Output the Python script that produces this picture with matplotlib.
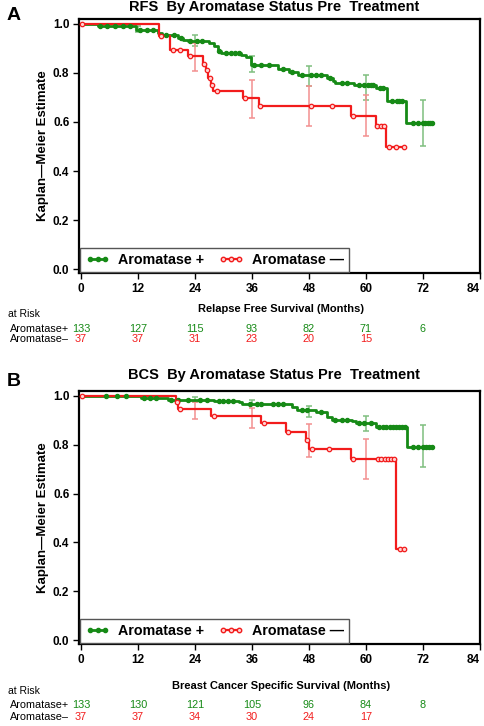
import numpy as np
import matplotlib
matplotlib.use("Agg")
import matplotlib.pyplot as plt
from matplotlib.lines import Line2D
from matplotlib.transforms import blended_transform_factory

plt.rcParams['font.family'] = ['Liberation Sans', 'DejaVu Sans']

GREEN = '#168a16'
GREEN_ERR = '#7fbf7f'
RED = '#f21c1c'
RED_ERR = '#f39090'

# ---- Panel A: relapse free survival ----
rfs_pos_t = [0, 3.5, 11.5, 16.2, 17, 20.4, 21.5, 22.5, 27, 28, 28.8, 29.5, 33.7, 34.7, 35.7,
             41.4, 43.9, 45.6, 51.9, 53, 53.5, 57.5, 62.1, 64.5, 68.4]
rfs_pos_s = [1.0, 0.993, 0.977, 0.963, 0.954, 0.943, 0.936, 0.929, 0.922, 0.909, 0.891, 0.882, 0.875,
             0.864, 0.831, 0.818, 0.804, 0.790, 0.780, 0.766, 0.759, 0.750, 0.739, 0.684, 0.596]
rfs_pos_end = 74
rfs_pos_cens = [4, 5.4, 7.1, 8.8, 10.3, 12.5, 14, 15.2, 18, 19.5, 21, 23, 24.5, 25.5, 29, 30.5, 31.5,
                32.5, 33.2, 36.5, 38, 39.5, 42.5, 44.5, 46.5, 48.5, 49.5, 50.5, 52.5, 55, 56, 58.5,
                59.5, 60.5, 61, 61.5, 63, 63.5, 65.5, 66.5, 67, 67.5, 70, 71, 72, 72.5, 73, 73.5, 74]
rfs_neg_t = [0, 16.4, 18.8, 22.5, 25.8, 26.3, 26.8, 27.3, 27.8, 34.2, 37.5, 56.8, 62.1, 64.3]
rfs_neg_s = [1.0, 0.95, 0.895, 0.868, 0.837, 0.813, 0.780, 0.752, 0.725, 0.698, 0.664, 0.623, 0.582, 0.498]
rfs_neg_end = 68
rfs_neg_cens = [0.3, 16.8, 19.3, 20.8, 23, 26, 26.5, 27.1, 27.6, 28.6, 34.5, 37.8, 48.4, 52.8, 57.2,
                62.4, 63.1, 63.8, 64.8, 66.4, 68]
rfs_err_month = [12, 24, 36, 48, 60, 72]
rfs_pos_hi = [0.990, 0.953, 0.868, 0.830, 0.790, 0.691]
rfs_pos_lo = [0.967, 0.909, 0.804, 0.745, 0.691, 0.503]
rfs_neg_err_month = [24, 36, 48, 60]
rfs_neg_hi = [0.922, 0.773, 0.745, 0.711]
rfs_neg_lo = [0.807, 0.616, 0.585, 0.541]
rfs_risk_pos = ['133', '127', '115', '93', '82', '71', '6']
rfs_risk_neg = ['37', '37', '31', '23', '20', '15']

# ---- Panel B: breast cancer specific survival ----
bcs_pos_t = [0, 12.7, 18.3, 28, 33.3, 34, 44.5, 45.5, 49.5, 51.9, 52.8, 57.1, 58, 62.1, 68.7]
bcs_pos_s = [1.0, 0.993, 0.985, 0.980, 0.973, 0.967, 0.955, 0.941, 0.932, 0.914, 0.903, 0.896,
             0.889, 0.873, 0.791]
bcs_pos_end = 74
bcs_pos_cens = [5.3, 7.6, 9.5, 13.2, 14.5, 15.8, 19, 20.5, 22.5, 25, 26.5, 29, 30, 31, 32, 35.5,
                37, 38, 40.5, 41.5, 42.5, 46.5, 47.5, 50.5, 53.5, 55, 56, 58.5, 59.5, 61, 62.8,
                63.5, 64.2, 65, 65.7, 66.4, 67, 67.6, 68.2, 70, 71, 72, 72.6, 73.2, 74]
bcs_neg_t = [0, 20, 20.5, 27.4, 37.9, 43.1, 47.3, 48.1, 56.8, 66.4]
bcs_neg_s = [1.0, 0.975, 0.948, 0.918, 0.887, 0.852, 0.818, 0.782, 0.741, 0.371]
bcs_neg_end = 68
bcs_neg_cens = [0.3, 20.2, 20.8, 28, 38.5, 43.6, 47.6, 48.7, 52.3, 57.3, 62.5, 63.2, 63.9, 64.6,
                65.3, 66, 67.2, 68]
bcs_err_month = [24, 36, 48, 60, 72]
bcs_pos_hi = [0.997, 0.985, 0.959, 0.918, 0.880]
bcs_pos_lo = [0.975, 0.962, 0.914, 0.855, 0.709]
bcs_neg_err_month = [24, 36, 48, 60]
bcs_neg_hi = [0.975, 0.950, 0.883, 0.825]
bcs_neg_lo = [0.907, 0.870, 0.750, 0.661]
bcs_risk_pos = ['133', '130', '121', '105', '96', '84', '8']
bcs_risk_neg = ['37', '37', '34', '30', '24', '17']

risk_months = [0, 12, 24, 36, 48, 60, 72]


def step_value(times, surv, t):
    i = np.searchsorted(times, t, side='right') - 1
    return np.asarray(surv)[i]


def draw_curve(ax, times, surv, end, cens, color, lw, hollow):
    x = list(times) + [end]
    y = list(surv) + [surv[-1]]
    ax.step(x, y, where='post', color=color, lw=lw, zorder=3)
    cy = [step_value(times, surv, t) for t in cens]
    ax.plot(cens, cy, ls='none', marker='o', ms=3.2 if hollow else 3,
            mfc='#ffd0d0' if hollow else color, mec=color, mew=0.9, zorder=4)


def draw_err(ax, months, lo, hi, color):
    lo = np.array(lo)
    hi = np.array(hi)
    ax.errorbar(months, (lo + hi) / 2, yerr=(hi - lo) / 2, fmt='none', ecolor=color,
                elinewidth=1.1, capsize=2.5, capthick=1.1, zorder=2)


def panel(ax, letter, title, xlabel, y_top, pos, neg, risk_pos, risk_neg):
    draw_curve(ax, *pos['curve'], GREEN, 2.0, False)
    draw_err(ax, *pos['err'], GREEN_ERR)
    draw_err(ax, *neg['err'], RED_ERR)
    draw_curve(ax, *neg['curve'], RED, 1.6, True)

    ax.set_xlim(-0.4, 84)
    ax.set_ylim(-0.016, 1.02)
    ax.set_xticks(range(0, 85, 12))
    ax.set_yticks([0.0, 0.2, 0.4, 0.6, 0.8, 1.0])
    ax.set_yticklabels(['0.0', '0.2', '0.4', '0.6', '0.8', '1.0'])
    ax.tick_params(direction='out', length=4, width=1, labelsize=8.5, pad=3)
    for lab in ax.get_xticklabels() + ax.get_yticklabels():
        lab.set_fontweight('bold')
    ax.get_xticklabels()[-1].set_horizontalalignment('right')
    ax.get_xticklabels()[-1].set_x(84.9)
    for sp in ax.spines.values():
        sp.set_linewidth(1.6)
    ax.set_ylabel('Kaplan\u2014Meier Estimate', fontsize=9.5, fontweight='bold', labelpad=3)

    handles = [Line2D([], [], color=GREEN, lw=2, marker='o', ms=3, mfc=GREEN, mec=GREEN),
               Line2D([], [], color=RED, lw=1.6, marker='o', ms=3.2, mfc='#ffd0d0', mec=RED)]
    leg = ax.legend(handles, ['Aromatase +', 'Aromatase \u2014'], loc='lower left', ncol=2,
                    numpoints=3, handlelength=1.7, handletextpad=0.6, columnspacing=1.0,
                    borderpad=0.35, borderaxespad=0.1, fancybox=False, framealpha=1,
                    prop={'weight': 'bold', 'size': 10.3})
    leg.get_frame().set_edgecolor('#555555')
    leg.get_frame().set_linewidth(1.0)

    fig = ax.figure
    H = 726.0
    fig.text(14 / 484, 1 - y_top[0] / H, letter, fontsize=14, fontweight='bold',
             ha='center', va='center')
    fig.text(274 / 484, 1 - y_top[1] / H, title, fontsize=10.5, fontweight='bold',
             ha='center', va='center')
    tr = blended_transform_factory(ax.transData, fig.transFigure)
    fig.text(0.58, 1 - y_top[2] / H, xlabel, fontsize=8, fontweight='bold',
             ha='center', va='center')
    fig.text(8 / 484, 1 - (y_top[2] + 5) / H, 'at Risk', fontsize=7.5, ha='left', va='center')
    row1 = 1 - (y_top[2] + 19.5) / H
    row2 = 1 - (y_top[2] + 30.5) / H
    fig.text(69 / 484, row1, 'Aromatase+', fontsize=7.8, ha='right', va='center')
    fig.text(69 / 484, row2, 'Aromatase\u2013', fontsize=7.8, ha='right', va='center')
    for m, v in zip(risk_months, risk_pos):
        ax.text(m, row1, v, transform=tr, color=GREEN, fontsize=7.8, ha='center', va='center')
    for m, v in zip(risk_months, risk_neg):
        ax.text(m, row2, v, transform=tr, color=RED, fontsize=7.8, ha='center', va='center')


fig = plt.figure(figsize=(4.84, 7.26), dpi=100)
ax_a = fig.add_axes([79 / 484, 1 - 273 / 726, 401 / 484, 254 / 726])
ax_b = fig.add_axes([79 / 484, 1 - 644 / 726, 401 / 484, 253 / 726])

panel(ax_a, 'A', 'RFS  By Aromatase Status Pre  Treatment', 'Relapse Free Survival (Months)',
      (15, 7, 309),
      {'curve': (rfs_pos_t, rfs_pos_s, rfs_pos_end, rfs_pos_cens),
       'err': (rfs_err_month, rfs_pos_lo, rfs_pos_hi)},
      {'curve': (rfs_neg_t, rfs_neg_s, rfs_neg_end, rfs_neg_cens),
       'err': (rfs_neg_err_month, rfs_neg_lo, rfs_neg_hi)},
      rfs_risk_pos, rfs_risk_neg)

panel(ax_b, 'B', 'BCS  By Aromatase Status Pre  Treatment',
      'Breast Cancer Specific Survival (Months)', (382, 375, 686),
      {'curve': (bcs_pos_t, bcs_pos_s, bcs_pos_end, bcs_pos_cens),
       'err': (bcs_err_month, bcs_pos_lo, bcs_pos_hi)},
      {'curve': (bcs_neg_t, bcs_neg_s, bcs_neg_end, bcs_neg_cens),
       'err': (bcs_neg_err_month, bcs_neg_lo, bcs_neg_hi)},
      bcs_risk_pos, bcs_risk_neg)

fig.savefig('out.png', dpi=100)
